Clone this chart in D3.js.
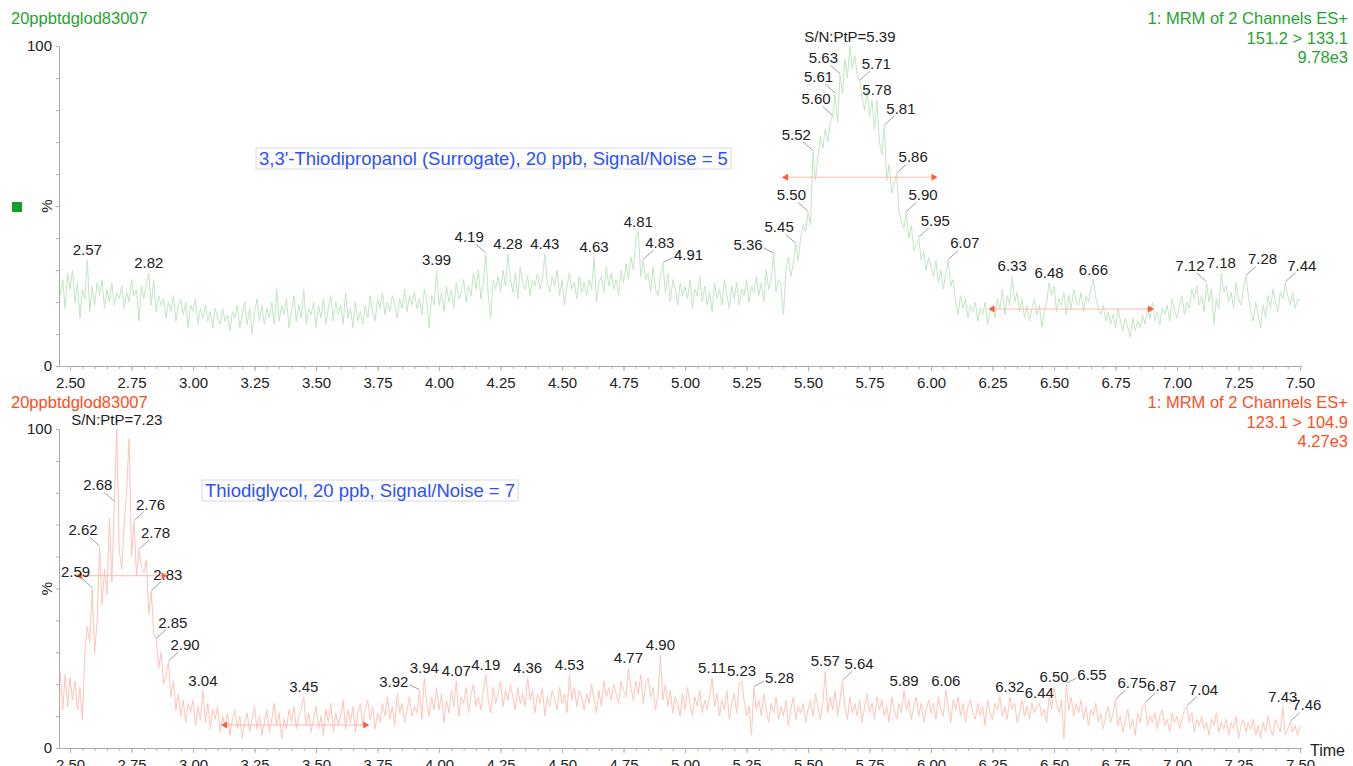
<!DOCTYPE html>
<html>
<head>
<meta charset="utf-8">
<script src="https://cdn.jsdelivr.net/npm/d3@7"></script>
<style>
	body { margin: 0; background: #fff; }
	svg { display: block; font-family: 'Liberation Sans', Arial, sans-serif; }
</style>
</head>
<body>
<svg id="canvas" width="1353" height="766"></svg>
<script>
// sampling of both traces (minutes)
let sampleStart = 2.46;
let sampleStep = 0.01;

let xTicks = [2.5, 2.75, 3, 3.25, 3.5, 3.75, 4, 4.25, 4.5, 4.75, 5, 5.25, 5.5, 5.75, 6, 6.25, 6.5, 6.75, 7, 7.25, 7.5];

// channel 151.2 > 133.1 (3,3'-thiodipropanol), % of 9.78e3
let tdpTrace = [
	22, 27, 18, 29,
	24, 30, 20, 26, 15, 24, 21, 33, 17, 25,
	19, 26, 22, 27, 18, 24, 20, 26, 19, 23,
	21, 25, 18, 23, 20, 27, 22, 24, 14, 25,
	21, 26, 29, 19, 27, 17, 22, 19, 21, 15,
	20, 17, 22, 14, 19, 21, 16, 20, 12, 19,
	17, 21, 13, 18, 15, 19, 14, 17, 12, 18,
	15, 13, 18, 14, 16, 11, 17, 15, 19, 12,
	16, 20, 13, 18, 10, 17, 21, 14, 19, 13,
	18, 15, 20, 13, 24, 14, 19, 16, 21, 12,
	17, 22, 14, 19, 15, 24, 13, 18, 16, 20,
	12, 19, 15, 21, 13, 18, 22, 14, 20, 16,
	19, 13, 23, 15, 18, 12, 20, 14, 17, 13,
	19, 15, 22, 17, 14, 21, 18, 23, 16, 20,
	17, 22, 19, 15, 21, 18, 24, 17, 22, 19,
	23, 18, 21, 16, 24, 20, 12, 22, 19, 30,
	19, 23, 17, 25, 20, 24, 18, 26, 21, 23,
	27, 20, 25, 22, 29, 24, 30, 21, 26, 35,
	22, 15, 27, 24, 28, 23, 30, 25, 35, 27,
	23, 29, 21, 31, 26, 24, 28, 22, 27, 25,
	29, 24, 27, 35, 26, 23, 28, 25, 30, 22,
	27, 19, 25, 29, 24, 26, 21, 28, 23, 26,
	22, 27, 24, 34, 20, 26, 28, 23, 31, 25,
	29, 24, 27, 22, 30, 26, 32, 27, 34, 30,
	40, 42, 28, 33, 27, 29, 23, 31, 24, 22,
	28, 32, 23, 29, 20, 27, 24, 19, 26, 22,
	25, 21, 27, 18, 24, 22, 28, 20, 25, 19,
	23, 17, 26, 21, 24, 19, 27, 22, 18, 25,
	21, 26, 19, 24, 22, 27, 20, 25, 23, 28,
	22, 26, 20, 30, 24, 27, 35, 23, 27, 25,
	16, 30, 34, 28, 32, 38, 33, 40, 44, 42,
	48, 44, 67, 58, 65, 72, 68, 74, 70, 76,
	78, 85, 76, 91, 85, 96, 90, 100, 93, 97,
	91, 89, 84, 80, 86, 78, 83, 74, 83, 70,
	66, 75, 58, 63, 54, 57, 60, 48, 45, 43,
	48, 40, 44, 36, 38, 40, 33, 36, 30, 34,
	31, 28, 33, 26, 30, 24, 29, 33, 25, 27,
	20, 16, 22, 18, 21, 15, 19, 17, 20, 14,
	18, 16, 20, 13, 17, 19, 15, 21, 18, 24,
	16, 22, 19, 28, 20, 23, 17, 21, 15, 19,
	14, 18, 21, 16, 19, 12, 17, 20, 26, 22,
	25, 17, 21, 19, 23, 16, 22, 18, 24, 20,
	19, 23, 17, 22, 20, 24, 27, 21, 18, 16,
	19, 14, 17, 13, 16, 12, 18, 14, 11, 15,
	12, 9, 15, 11, 14, 12, 16, 13, 18, 15,
	20, 14, 17, 13, 18, 16, 19, 14, 21, 17,
	15, 19, 22, 16, 20, 18, 24, 21, 25, 19,
	22, 17, 26, 20, 24, 13, 21, 18, 29, 23,
	25, 20, 23, 18, 26, 21, 19, 24, 28, 22,
	17, 14, 20, 16, 12, 19, 15, 22, 18, 24,
	20, 17, 23, 21, 26, 22, 19, 23, 18, 21,
	20
];

// channel 123.1 > 104.9 (thiodiglycol), % of 4.27e3
let tdgTrace = [
	24, 12, 23, 13,
	22, 15, 21, 12, 19, 9, 30, 38, 33, 50,
	30, 40, 63, 45, 56, 48, 72, 52, 77, 100,
	62, 56, 70, 81, 97, 60, 71, 54, 62, 57,
	55, 59, 42, 49, 36, 34, 25, 30, 20, 23,
	27, 16, 21, 12, 17, 10, 15, 8, 14, 11,
	15, 7, 13, 9, 18, 8, 14, 6, 12, 9,
	13, 5, 10, 7, 11, 4, 9, 12, 6, 10,
	3, 8, 11, 5, 9, 13, 6, 10, 4, 8,
	12, 5, 9, 14, 7, 11, 3, 9, 6, 12,
	8, 13, 6, 10, 12, 16, 7, 11, 5, 9,
	13, 6, 10, 4, 12, 8, 14, 5, 11, 7,
	10, 15, 6, 12, 8, 13, 5, 11, 14, 7,
	12, 15, 9, 13, 6, 11, 8, 14, 10, 16,
	9, 13, 7, 17, 11, 14, 8, 12, 16, 10,
	13, 11, 18, 9, 22, 14, 10, 16, 12, 19,
	12, 17, 8, 15, 11, 18, 13, 21, 10, 16,
	14, 19, 11, 17, 20, 13, 16, 12, 18, 23,
	15, 11, 19, 14, 17, 21, 13, 18, 15, 20,
	16, 12, 19, 14, 17, 13, 22, 15, 18, 11,
	17, 14, 19, 10, 16, 13, 18, 15, 12, 19,
	14, 17, 11, 23, 15, 19, 13, 18, 16, 12,
	17, 14, 20, 15, 11, 18, 13, 21, 16, 19,
	15, 20, 17, 14, 21, 18, 16, 25, 19, 15,
	21, 17, 23, 14, 20, 22, 16, 19, 12, 17,
	29, 15, 20, 13, 18, 11, 16, 14, 10, 17,
	12, 19, 14, 10, 16, 13, 18, 11, 15, 12,
	16, 22, 13, 17, 10, 15, 12, 18, 9, 14,
	17, 11, 20, 21, 15, 10, 13, 4, 19, 12,
	15, 10, 17, 12, 8, 14, 11, 16, 9, 13,
	10, 15, 7, 12, 16, 9, 13, 11, 14, 8,
	12, 15, 10, 17, 13, 9, 14, 24, 11, 16,
	12, 18, 10, 15, 21, 13, 9, 16, 11, 14,
	10, 15, 8, 13, 17, 11, 14, 9, 16, 12,
	15, 10, 13, 8, 16, 12, 9, 14, 11, 18,
	12, 15, 9, 13, 16, 10, 14, 8, 12, 15,
	11, 14, 9, 16, 12, 10, 18, 13, 8, 15,
	12, 16, 10, 14, 8, 13, 15, 11, 9, 14,
	10, 13, 7, 15, 11, 9, 14, 12, 16, 10,
	13, 9, 16, 12, 14, 8, 11, 15, 10, 13,
	9, 14, 11, 13, 14, 10, 12, 8, 16, 12,
	19, 14, 11, 15, 3, 20, 12, 16, 10, 14,
	11, 15, 9, 13, 7, 12, 10, 14, 8, 11,
	6, 10, 13, 8, 11, 15, 7, 10, 5, 9,
	12, 6, 9, 4, 11, 8, 13, 14, 7, 10,
	8, 11, 6, 10, 12, 7, 9, 5, 11, 8,
	10, 6, 9, 12, 13, 8, 11, 5, 9, 7,
	10, 6, 8, 4, 9, 7, 11, 5, 8, 6,
	9, 4, 8, 6, 10, 3, 7, 9, 5, 8,
	6, 9, 4, 7, 3, 8, 5, 10, 6, 4,
	9, 7, 5, 13, 4, 6, 8, 5, 7, 4,
	7
];

// labelled retention times
let tdpPeaks = [2.57, 2.82, 3.99, 4.19, 4.28, 4.43, 4.63, 4.81, 4.83, 4.91, 5.36, 5.45, 5.50, 5.52, 5.60, 5.61, 5.63, 5.71, 5.78, 5.81, 5.86, 5.90, 5.95, 6.07, 6.33, 6.48, 6.66, 7.12, 7.18, 7.28, 7.44];
let tdgPeaks = [2.59, 2.62, 2.68, 2.76, 2.78, 2.83, 2.85, 2.90, 3.04, 3.45, 3.92, 3.94, 4.07, 4.19, 4.36, 4.53, 4.77, 4.90, 5.11, 5.23, 5.28, 5.57, 5.64, 5.89, 6.06, 6.32, 6.44, 6.50, 6.55, 6.75, 6.87, 7.04, 7.43, 7.46];

// peak width and noise windows: [start, end, level %]
let tdpPeakWidth = [5.41, 6.01, 59];
let tdpNoise = [6.25, 6.89, 17.8];
let tdgPeakWidth = [2.54, 2.88, 54];
let tdgNoise = [3.13, 3.70, 7.2];

let fileName = '20ppbtdglod83007';
let tdpHeader = ['1: MRM of 2 Channels ES+', '151.2 > 133.1', '9.78e3'];
let tdgHeader = ['1: MRM of 2 Channels ES+', '123.1 > 104.9', '4.27e3'];
let tdpTitle = "3,3'-Thiodipropanol (Surrogate), 20 ppb, Signal/Noise = 5";
let tdgTitle = 'Thiodiglycol, 20 ppb, Signal/Noise = 7';
let tdpSN = 'S/N:PtP=5.39';
let tdgSN = 'S/N:PtP=7.23';

// label placement: 0 above, +-1 side with leader, +-2 side with flat leader
let tdpSides = [0, 0, 0, -1, 0, 0, 0, 0, 1, 2, -2, -1, -1, -1, -1, -1, -1, 1, 0, 1, 1, 1, 1, 1, 0, 0, 0, -1, 0, 1, 1];
let tdgSides = [-1, -1, -1, 1, 1, 1, 1, 1, 0, 0, -2, 0, 0, 0, 0, 0, 0, 0, 0, 0, 2, 0, 1, 0, 0, 0, 0, 0, 2, 1, 1, 1, 0, 1];

let canvas = d3.select('#canvas');

let x = d3.scaleLinear().domain([2.455, 7.508]).range([59, 1302]);
let minorTicks = d3.range(2.5, 7.51, 0.05);

let timeAt = (i) => sampleStart + i * sampleStep;
let valueAt = (trace, t) => trace[Math.round((t - sampleStart) / sampleStep)];

let drawPanel = (opts) => {
	let y = d3.scaleLinear().domain([0, 100]).range([opts.bottom, opts.top]);
	let g = canvas.append('g');

	// axes
	g.append('g')
		.attr('transform', `translate(0, ${opts.bottom})`)
		.call(d3.axisBottom(x).tickValues(xTicks).tickFormat(d3.format('.2f')).tickSize(5).tickPadding(6).tickSizeOuter(0));
	g.append('g')
		.attr('transform', `translate(0, ${opts.bottom})`)
		.call(d3.axisBottom(x).tickValues(minorTicks).tickFormat('').tickSize(3).tickSizeOuter(0))
		.select('.domain').remove();
	g.append('g')
		.attr('transform', `translate(59, 0)`)
		.call(d3.axisLeft(y).tickValues(d3.range(0, 101, 10))
			.tickFormat((d) => (d === 0 || d === 100) ? d : '')
			.tickSize(3).tickPadding(4).tickSizeOuter(0));
	g.selectAll('.domain').attr('stroke', '#a8a8a8');
	g.selectAll('.tick line').attr('stroke', '#b0b0b0');
	g.selectAll('.tick text').attr('fill', '#222').attr('font-size', 15).attr('font-family', 'Liberation Sans, Arial, sans-serif');

	g.append('text')
		.attr('transform', `translate(52, ${(opts.top + opts.bottom) / 2}) rotate(-90)`)
		.attr('text-anchor', 'middle')
		.attr('font-size', 15)
		.attr('fill', '#222')
		.text('%');

	// headers
	g.append('text')
		.attr('x', 11)
		.attr('y', opts.headerY)
		.attr('font-size', 16.5)
		.attr('fill', opts.headColor)
		.text(fileName);
	g.selectAll('.hdr')
		.data(opts.header)
		.enter()
		.append('text')
		.attr('x', 1348)
		.attr('y', (d, i) => opts.headerY + i * 19.5)
		.attr('text-anchor', 'end')
		.attr('font-size', 16.5)
		.attr('fill', opts.headColor)
		.text((d) => d);

	// trace
	let line = d3.line()
		.x((d, i) => x(timeAt(i)))
		.y((d) => y(d));
	g.append('path')
		.datum(opts.trace)
		.attr('d', line)
		.attr('fill', 'none')
		.attr('stroke', opts.traceColor)
		.attr('stroke-width', 1);

	// peak width / noise markers
	[opts.peakWidth, opts.noise].forEach((m) => {
		let yy = y(m[2]);
		g.append('line')
			.attr('x1', x(m[0])).attr('x2', x(m[1]))
			.attr('y1', yy).attr('y2', yy)
			.attr('stroke', '#ffb8aa')
			.attr('stroke-width', 1);
		[[m[0], -1], [m[1], 1]].forEach((end) => {
			let px = x(end[0]);
			g.append('path')
				.attr('d', `M${px + end[1] * 4},${yy} L${px - end[1] * 2},${yy - 3.5} L${px - end[1] * 2},${yy + 3.5} Z`)
				.attr('fill', '#ff5a3a');
		});
	});

	// peak labels
	opts.peaks.forEach((t, i) => {
		let px = x(t);
		let py = y(valueAt(opts.trace, t));
		let side = opts.sides[i];
		let dir = Math.sign(side);
		let label = g.append('text')
			.attr('font-size', 15)
			.attr('fill', '#222')
			.text(t.toFixed(2));
		if (side === 0) {
			label.attr('x', px).attr('y', py - 5).attr('text-anchor', 'middle');
			return;
		}
		let flat = Math.abs(side) === 2;
		g.append('line')
			.attr('x1', px).attr('y1', py - 1)
			.attr('x2', px + dir * 10).attr('y2', py - (flat ? 6 : 10))
			.attr('stroke', '#a0a0a0')
			.attr('stroke-width', 1);
		label.attr('x', px + dir * (flat ? 11 : 2))
			.attr('y', py - (flat ? 4 : 12))
			.attr('text-anchor', dir > 0 ? 'start' : 'end');
	});

	// signal/noise label over the largest point
	let top = d3.maxIndex(opts.trace);
	g.append('text')
		.attr('x', x(timeAt(top)))
		.attr('y', y(opts.trace[top]) - 4)
		.attr('text-anchor', 'middle')
		.attr('font-size', 15)
		.attr('fill', '#222')
		.text(opts.sn);

	// compound annotation box
	let note = g.append('text')
		.attr('x', opts.titleX)
		.attr('y', opts.titleY)
		.attr('font-size', 18.5)
		.attr('fill', '#2b50ff')
		.text(opts.title);
	let box = note.node().getBBox();
	g.insert('rect', () => note.node())
		.attr('x', box.x - 3)
		.attr('y', box.y)
		.attr('width', box.width + 6)
		.attr('height', box.height)
		.attr('fill', '#fff')
		.attr('stroke', '#d6d9e6')
		.attr('stroke-width', 1);
	return g;
};

drawPanel({
	top: 46, bottom: 366, headerY: 24,
	headColor: '#1fa52e', traceColor: '#c2e6c2',
	trace: tdpTrace, peaks: tdpPeaks, sides: tdpSides,
	peakWidth: tdpPeakWidth, noise: tdpNoise,
	header: tdpHeader, sn: tdpSN,
	title: tdpTitle, titleX: 259, titleY: 165
});

drawPanel({
	top: 429, bottom: 748, headerY: 408,
	headColor: '#ff4d22', traceColor: '#ffc4b8',
	trace: tdgTrace, peaks: tdgPeaks, sides: tdgSides,
	peakWidth: tdgPeakWidth, noise: tdgNoise,
	header: tdgHeader, sn: tdgSN,
	title: tdgTitle, titleX: 205, titleY: 497
});

// channel marker and time label
canvas.append('rect')
	.attr('x', 12).attr('y', 202)
	.attr('width', 10).attr('height', 10)
	.attr('fill', '#12a02a');
canvas.append('text')
	.attr('x', 1310)
	.attr('y', 756)
	.attr('font-size', 16)
	.attr('fill', '#222')
	.text('Time');
</script>
</body>
</html>
